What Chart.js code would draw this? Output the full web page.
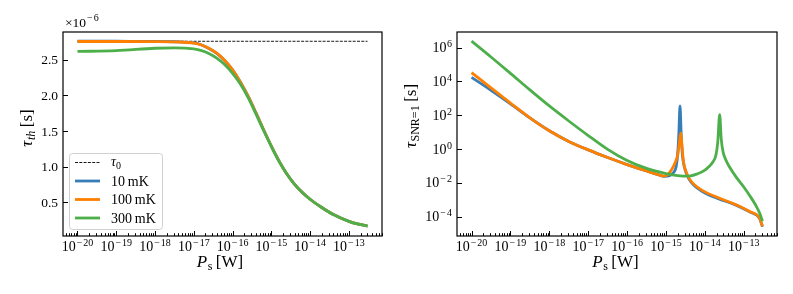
<!DOCTYPE html>
<html>
<head>
<meta charset="utf-8">
<script src="https://cdn.jsdelivr.net/npm/chart.js@4.4.1/dist/chart.umd.min.js"></script>
<style>
  body { margin: 0; background: #fff; }
  #wrap { position: relative; width: 793px; height: 294px; }
  canvas { position: absolute; top: 0; }
</style>
</head>
<body>
<div id="wrap">
  <canvas id="left" width="400" height="294" style="left:0"></canvas>
  <canvas id="right" width="393" height="294" style="left:400px"></canvas>
</div>
<script>
// ---- data (x given as log10 of P_s in W) ----
const tickExpX = [-20, -19, -18, -17, -16, -15, -14, -13];
const ticksTh = [0.5, 1.0, 1.5, 2.0, 2.5];
const tickExpSnr = [-4, -2, 0, 2, 4, 6];

// left: tau_th in units of 1e-6 s
const tau0 = 2.76;
const lgPTau0 = [-20, -12.52];
const lgPTh = [-20, -19, -18, -17.5, -17, -16.8, -16.6, -16.4, -16.2, -16.0, -15.8, -15.6, -15.4, -15.2, -15.0, -14.8, -14.6, -14.4, -14.2, -14.0, -13.7, -13.4, -13.0, -12.75, -12.52];
const th10mK  = [2.762, 2.760, 2.758, 2.753, 2.736, 2.708, 2.656, 2.588, 2.488, 2.358, 2.19, 1.99, 1.76, 1.52, 1.29, 1.08, 0.90, 0.755, 0.64, 0.545, 0.43, 0.33, 0.235, 0.195, 0.17];
const th100mK = [2.757, 2.757, 2.756, 2.752, 2.735, 2.708, 2.658, 2.590, 2.490, 2.360, 2.19, 1.99, 1.76, 1.52, 1.29, 1.08, 0.90, 0.755, 0.64, 0.545, 0.43, 0.33, 0.235, 0.195, 0.17];
const th300mK = [2.618, 2.628, 2.662, 2.668, 2.652, 2.628, 2.585, 2.520, 2.430, 2.310, 2.16, 1.97, 1.745, 1.51, 1.285, 1.075, 0.90, 0.755, 0.64, 0.545, 0.43, 0.33, 0.235, 0.195, 0.17];

// right: log10 of tau_SNR=1 in s
const lgP10mK = [-20, -19.5, -19, -18.5, -18, -17.5, -17, -16.5, -16, -15.5, -15.2, -15.05, -14.9, -14.8, -14.74, -14.7, -14.67, -14.64, -14.61, -14.58, -14.53, -14.45, -14.35, -14.2, -14.0, -13.64, -13.2, -12.85, -12.59, -12.56, -12.52];
const snr10mK = [4.24, 3.48, 2.68, 1.84, 1.08, 0.45, -0.05, -0.5, -0.92, -1.3, -1.52, -1.62, -1.56, -1.38, -1.05, -0.3, 0.9, 2.55, 0.9, -0.3, -1.05, -1.6, -1.98, -2.3, -2.6, -2.95, -3.32, -3.72, -4.12, -4.32, -4.6];
const lgP100mK = [-20, -19.5, -19, -18.5, -18, -17.5, -17, -16.5, -16, -15.5, -15.2, -15.05, -14.95, -14.85, -14.75, -14.7, -14.66, -14.62, -14.59, -14.55, -14.48, -14.4, -14.3, -14.07, -13.64, -13.2, -12.85, -12.59, -12.56, -12.52];
const snr100mK = [4.53, 3.62, 2.72, 1.85, 1.08, 0.45, -0.05, -0.5, -0.92, -1.3, -1.52, -1.6, -1.5, -1.2, -0.72, -0.35, 0.3, 0.96, 0.2, -0.75, -1.35, -1.75, -2.05, -2.45, -2.9, -3.3, -3.7, -4.1, -4.3, -4.58];
const lgP300mK = [-20, -19.5, -19, -18.5, -18, -17.5, -17, -16.5, -16, -15.5, -15, -14.7, -14.4, -14.2, -14.0, -13.9, -13.8, -13.72, -13.67, -13.62, -13.58, -13.53, -13.45, -13.37, -13.2, -13.0, -12.85, -12.7, -12.59, -12.52];
const snr300mK = [6.39, 5.45, 4.48, 3.5, 2.55, 1.66, 0.80, -0.02, -0.68, -1.15, -1.45, -1.57, -1.6, -1.48, -1.25, -1.05, -0.78, -0.4, 0.4, 2.04, 0.6, -0.2, -0.7, -1.05, -1.65, -2.25, -2.75, -3.3, -3.8, -4.27];

const labels = ['10\u2009mK', '100\u2009mK', '300\u2009mK'];
const colors = ['#377eb8', '#ff7f00', '#4daf4a'];

const xMin = Math.pow(10, -20.374), xMax = Math.pow(10, -12.146);
const fam = '"Liberation Serif", "DejaVu Serif", serif';

const pts = (xs, ys) => xs.map((e, i) => ({ x: Math.pow(10, e), y: ys[i] }));
const ptsLog = (xs, ys) => xs.map((e, i) => ({ x: Math.pow(10, e), y: Math.pow(10, ys[i]) }));

// text made of pieces: [text, size, italic, dy, padBefore, padAfter]
function partsWidth(ctx, parts) {
  let w = 0;
  for (const p of parts) {
    ctx.font = (p[2] ? 'italic ' : '') + p[1] + 'px ' + fam;
    w += ctx.measureText(p[0]).width + (p[4] || 0) + (p[5] || 0);
  }
  return w;
}
function drawParts(ctx, parts, x, y, align) {
  const w = partsWidth(ctx, parts);
  let cx = align === 'center' ? x - w / 2 : align === 'right' ? x - w : x;
  ctx.textAlign = 'left';
  ctx.textBaseline = 'alphabetic';
  for (const p of parts) {
    ctx.font = (p[2] ? 'italic ' : '') + p[1] + 'px ' + fam;
    cx += p[4] || 0;
    ctx.fillText(p[0], cx, y + (p[3] || 0));
    cx += ctx.measureText(p[0]).width + (p[5] || 0);
  }
}
const pow10 = (e, base, sup) => {
  const parts = [['10', base, false, 0, 0, 0.5]];
  if (e < 0) parts.push(['\u2212', sup, false, -5, 0.5, 1]);
  parts.push([String(Math.abs(e)), sup, false, -5]);
  return parts;
};

function drawAxes(chart, o) {
  const { ctx, chartArea: a } = chart;
  const xs = chart.scales.x, ys = chart.scales.y;
  ctx.save();
  ctx.strokeStyle = '#000';
  ctx.fillStyle = '#000';
  ctx.lineWidth = 1;
  // x ticks, inward
  ctx.beginPath();
  for (let e = -21; e <= -12; e++) {
    for (let k = 1; k <= 9; k++) {
      const v = k * Math.pow(10, e);
      if (v < xMin || v > xMax) continue;
      const px = Math.round(xs.getPixelForValue(v)) + 0.5;
      ctx.moveTo(px, a.bottom);
      ctx.lineTo(px, a.bottom - (k === 1 ? 5 : 2.8));
    }
  }
  // y ticks, inward
  for (const v of o.yTicks) {
    const py = Math.round(ys.getPixelForValue(v)) + 0.5;
    ctx.moveTo(a.left, py);
    ctx.lineTo(a.left + 5, py);
  }
  ctx.stroke();
  // frame
  ctx.lineWidth = 1.2;
  ctx.strokeRect(a.left, a.top, a.right - a.left, a.bottom - a.top);
  // x tick labels
  for (const e of tickExpX) {
    drawParts(ctx, pow10(e, 14, 10), xs.getPixelForValue(Math.pow(10, e)), a.bottom + 15, 'center');
  }
  // y tick labels
  o.yTicks.forEach((v, i) => {
    drawParts(ctx, o.yLabels[i], a.left - 5, ys.getPixelForValue(v) + 4.5, 'right');
  });
  // x title
  drawParts(ctx, [['P', 17, true, 0, 0, 0.5], ['s', 12, false, 3, 0, 3.5], ['[W]', 17, false, 0]], o.xTitleX, 267, 'center');
  // y title
  ctx.translate(o.yTitleX, o.yTitleY);
  ctx.rotate(-Math.PI / 2);
  drawParts(ctx, o.yTitle, 0, 0, 'center');
  ctx.restore();
}

function drawLegend(chart) {
  const ctx = chart.ctx;
  ctx.save();
  const x = 69.5, y = 153.5, w = 93, h = 76, r = 3;
  ctx.beginPath();
  ctx.moveTo(x + r, y);
  ctx.arcTo(x + w, y, x + w, y + h, r);
  ctx.arcTo(x + w, y + h, x, y + h, r);
  ctx.arcTo(x, y + h, x, y, r);
  ctx.arcTo(x, y, x + w, y, r);
  ctx.closePath();
  ctx.fillStyle = 'rgba(255,255,255,0.8)';
  ctx.fill();
  ctx.strokeStyle = '#d0d0d0';
  ctx.lineWidth = 1;
  ctx.stroke();
  const rows = [162.5, 181, 199.5, 218];
  // dashed tau0
  ctx.strokeStyle = '#000';
  ctx.lineWidth = 0.9;
  ctx.setLineDash([3, 1.3]);
  ctx.beginPath();
  ctx.moveTo(75, rows[0]);
  ctx.lineTo(100, rows[0]);
  ctx.stroke();
  ctx.setLineDash([]);
  ctx.fillStyle = '#000';
  drawParts(ctx, [['\u03c4', 14, true, 0], ['0', 10, false, 3]], 111, rows[0] + 3, 'left');
  for (let i = 0; i < 3; i++) {
    ctx.strokeStyle = colors[i];
    ctx.lineWidth = 2.8;
    ctx.beginPath();
    ctx.moveTo(75, rows[i + 1]);
    ctx.lineTo(100, rows[i + 1]);
    ctx.stroke();
    ctx.fillStyle = '#000';
    drawParts(ctx, [[labels[i], 14, false, 0]], 111, rows[i + 1] + 4.8, 'left');
  }
  // offset text
  drawParts(ctx, [['\u00d710', 13.5, false, 0, 0, 0.5], ['\u2212', 10, false, -5.5, 0.5, 1], ['6', 10, false, -5.5]], 65, 26.5, 'left');
  ctx.restore();
}

function lineSet(label, data, color, order) {
  return {
    label, data, order,
    borderColor: color,
    borderWidth: 2.8,
    pointRadius: 0,
    fill: false,
    cubicInterpolationMode: 'monotone'
  };
}

function fitAxes(h) {
  return {
    x: {
      type: 'logarithmic', min: xMin, max: xMax,
      grid: { display: false }, border: { display: false },
      ticks: { display: false },
      afterFit: s => { s.height = h; }
    }
  };
}

// left panel
const leftScales = fitAxes(58);
leftScales.y = {
  type: 'linear', min: 0.03, max: 2.89,
  grid: { display: false }, border: { display: false },
  ticks: { display: false },
  afterFit: s => { s.width = 63; }
};
new Chart(document.getElementById('left'), {
  type: 'line',
  data: {
    datasets: [
      Object.assign(lineSet('\u03c40', pts(lgPTau0, [tau0, tau0]), '#000', 3), { borderWidth: 0.9, borderDash: [3, 1.3], cubicInterpolationMode: 'default' }),
      lineSet(labels[0], pts(lgPTh, th10mK), colors[0], 2),
      lineSet(labels[1], pts(lgPTh, th100mK), colors[1], 1),
      lineSet(labels[2], pts(lgPTh, th300mK), colors[2], 0)
    ]
  },
  options: {
    responsive: false,
    devicePixelRatio: 1,
    animation: false,
    layout: { padding: { left: 0, top: 32, right: 18, bottom: 0 } },
    plugins: { legend: { display: false }, tooltip: { enabled: false } },
    scales: leftScales
  },
  plugins: [{
    id: 'decor',
    afterDraw: chart => {
      drawAxes(chart, {
        yTicks: ticksTh,
        yLabels: ticksTh.map(v => [[v.toFixed(1), 13.5, false, 0]]),
        xTitleX: 220,
        yTitleX: 32, yTitleY: 128,
        yTitle: [['\u03c4', 17, true, 0, 0, 0.5], ['th', 12, true, 3, 0, 3.5], ['[s]', 17, false, 0]]
      });
      drawLegend(chart);
    }
  }]
});

// right panel
const rightScales = fitAxes(58);
rightScales.y = {
  type: 'logarithmic', min: Math.pow(10, -5.15), max: Math.pow(10, 6.93),
  grid: { display: false }, border: { display: false },
  ticks: { display: false },
  afterFit: s => { s.width = 57; }
};
new Chart(document.getElementById('right'), {
  type: 'line',
  data: {
    datasets: [
      lineSet(labels[0], ptsLog(lgP10mK, snr10mK), colors[0], 2),
      lineSet(labels[1], ptsLog(lgP100mK, snr100mK), colors[1], 1),
      lineSet(labels[2], ptsLog(lgP300mK, snr300mK), colors[2], 0)
    ]
  },
  options: {
    responsive: false,
    devicePixelRatio: 1,
    animation: false,
    layout: { padding: { left: 0, top: 32, right: 16, bottom: 0 } },
    plugins: { legend: { display: false }, tooltip: { enabled: false } },
    scales: rightScales
  },
  plugins: [{
    id: 'decor',
    afterDraw: chart => {
      drawAxes(chart, {
        yTicks: tickExpSnr.map(e => Math.pow(10, e)),
        yLabels: tickExpSnr.map(e => pow10(e, 14, 10)),
        xTitleX: 215.5,
        yTitleX: 16, yTitleY: 116,
        yTitle: [['\u03c4', 17, true, 0, 0, 0.5], ['SNR=1', 12, false, 3, 0, 3.5], ['[s]', 17, false, 0]]
      });
    }
  }]
});
</script>
</body>
</html>
